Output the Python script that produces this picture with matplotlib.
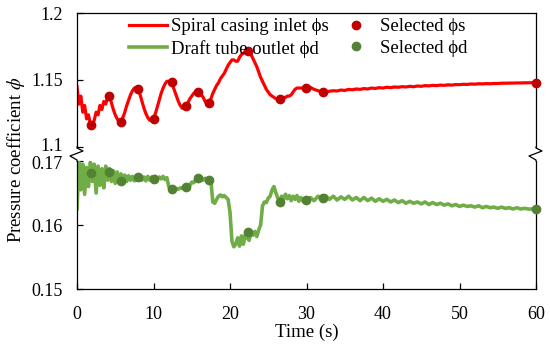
import numpy as np
import matplotlib
matplotlib.use("Agg")
import matplotlib.pyplot as plt
from matplotlib.lines import Line2D
from matplotlib.transforms import ScaledTranslation

# ---------------- data ----------------
time_a = np.arange(0, 30.001, 0.25)      # 0 .. 30 s
time_b = np.arange(30.5, 60.001, 0.5)    # 30.5 .. 60 s

spiral_a = [
    1.145, 1.132, 1.138, 1.126, 1.131, 1.121, 1.124, 1.117,
    1.116, 1.120, 1.126, 1.124, 1.131, 1.128, 1.134, 1.132,
    1.137, 1.138, 1.133, 1.128, 1.124, 1.121, 1.119, 1.119,
    1.122, 1.126, 1.131, 1.135, 1.139, 1.142, 1.144, 1.144,
    1.143, 1.139, 1.134, 1.129, 1.125, 1.122, 1.120, 1.120,
    1.121, 1.125, 1.130, 1.135, 1.140, 1.144, 1.147, 1.149,
    1.149, 1.148, 1.146, 1.142, 1.138, 1.134, 1.131, 1.129,
    1.129, 1.130, 1.133, 1.136, 1.138, 1.140, 1.141, 1.141,
    1.140, 1.139, 1.137, 1.134, 1.132, 1.133, 1.136, 1.140,
    1.143, 1.146, 1.148, 1.151, 1.153, 1.155, 1.158, 1.161,
    1.163, 1.165, 1.165, 1.164, 1.164, 1.167, 1.169, 1.170,
    1.171, 1.172, 1.171, 1.169, 1.166, 1.163, 1.160, 1.156,
    1.152, 1.149, 1.146, 1.143, 1.141, 1.139, 1.138, 1.137,
    1.136, 1.136, 1.136, 1.136, 1.137, 1.137, 1.138, 1.138,
    1.139, 1.141, 1.143, 1.144, 1.144, 1.144, 1.144, 1.144,
    1.144]
spiral_b = [
    1.1445, 1.1430, 1.1420, 1.1410, 1.1412, 1.1416, 1.1420, 1.1418, 1.1425, 1.1422,
    1.1430, 1.1427, 1.1433, 1.1430, 1.1436, 1.1433, 1.1440, 1.1437, 1.1443, 1.1440,
    1.1446, 1.1443, 1.1448, 1.1446, 1.1450, 1.1448, 1.1453, 1.1450, 1.1455, 1.1453,
    1.1458, 1.1456, 1.1460, 1.1458, 1.1462, 1.1460, 1.1464, 1.1462, 1.1466, 1.1465,
    1.1468, 1.1467, 1.1470, 1.1469, 1.1472, 1.1471, 1.1473, 1.1472, 1.1474, 1.1474,
    1.1476, 1.1476, 1.1477, 1.1477, 1.1478, 1.1478, 1.1479, 1.1479, 1.1480, 1.1480]

draft_a = [
    0.1625, 0.1698, 0.1655, 0.1695, 0.1648, 0.1690, 0.1660, 0.1698,
    0.1668, 0.1695, 0.1650, 0.1692, 0.1662, 0.1688, 0.1658, 0.1692,
    0.1670, 0.1688, 0.1668, 0.1685, 0.1665, 0.1683, 0.1668, 0.1680,
    0.1670, 0.1678, 0.1668, 0.1677, 0.1670, 0.1676, 0.1669, 0.1676,
    0.1671, 0.1677, 0.1670, 0.1675, 0.1669, 0.1676, 0.1670, 0.1675,
    0.1671, 0.1676, 0.1672, 0.1675, 0.1672, 0.1676, 0.1671, 0.1674,
    0.1660, 0.1655, 0.1657, 0.1654, 0.1657, 0.1656, 0.1658, 0.1657,
    0.1660, 0.1659, 0.1663, 0.1662, 0.1667, 0.1666, 0.1670, 0.1673,
    0.1671, 0.1674, 0.1670, 0.1673, 0.1671, 0.1672, 0.1670, 0.1636,
    0.1634, 0.1640, 0.1645, 0.1647, 0.1644, 0.1646, 0.1643, 0.1640,
    0.1620, 0.1575, 0.1566, 0.1570, 0.1580, 0.1567, 0.1583, 0.1570,
    0.1585, 0.1580, 0.1576, 0.1588, 0.1584, 0.1590, 0.1582, 0.1592,
    0.1600, 0.1630, 0.1636, 0.1635, 0.1642, 0.1645, 0.1655, 0.1660,
    0.1650, 0.1642, 0.1637, 0.1645, 0.1640, 0.1648, 0.1641, 0.1646,
    0.1638, 0.1645, 0.1640, 0.1646, 0.1637, 0.1643, 0.1638, 0.1640,
    0.1638]
draft_b = [
    0.1643, 0.1638, 0.1645, 0.1640, 0.1646, 0.1640, 0.1645, 0.1639, 0.1644, 0.1640,
    0.1645, 0.1639, 0.1643, 0.1638, 0.1643, 0.1638, 0.1642, 0.1637, 0.1641, 0.1637,
    0.1640, 0.1636, 0.1639, 0.1635, 0.1638, 0.1634, 0.1637, 0.1634, 0.1636, 0.1633,
    0.1636, 0.1632, 0.1635, 0.1632, 0.1634, 0.1631, 0.1633, 0.1630, 0.1632, 0.1629,
    0.1631, 0.1629, 0.1630, 0.1628, 0.1630, 0.1627, 0.1629, 0.1627, 0.1628, 0.1626,
    0.1628, 0.1626, 0.1627, 0.1625, 0.1627, 0.1625, 0.1626, 0.1625, 0.1625, 0.1625]

sel_time = [1.8, 4.2, 5.7, 8.0, 10.0, 12.4, 14.3, 15.8, 17.3, 22.4, 26.6, 29.9, 32.2, 60.0]
sel_spiral = [1.1164, 1.1378, 1.1189, 1.1433, 1.1209, 1.1485, 1.1304, 1.1408,
              1.1331, 1.1716, 1.1360, 1.1443, 1.1410, 1.1480]
sel_draft = [0.1682, 0.1683, 0.1669, 0.1675, 0.1672, 0.1657, 0.1659, 0.1673,
             0.1671, 0.1589, 0.1636, 0.1639, 0.1642, 0.1625]

x_ticks = [0, 10, 20, 30, 40, 50, 60]
top_ticks = [1.1, 1.15, 1.2]
top_labels = ["1.1", "1.15", "1.2"]
bot_ticks = [0.15, 0.16, 0.17]
bot_labels = ["0.15", "0.16", "0.17"]

time = np.concatenate([time_a, time_b])
spiral = np.array(spiral_a + spiral_b)
draft = np.array(draft_a + draft_b)
assert len(time) == len(spiral) == len(draft)

# ---------------- style ----------------
plt.rcParams["font.family"] = ["Liberation Serif", "DejaVu Serif"]
plt.rcParams["mathtext.fontset"] = "stix"

RED = "#FF0000"
RED_DOT = "#C00000"
GREEN = "#70AD47"
GREEN_DOT = "#548235"

W, H = 550, 344
fig = plt.figure(figsize=(W / 100, H / 100), dpi=100)

def fx(px):
    return px / W

def fy(py):
    return 1 - py / H

L, R = 77, 536
top_t, top_b = 13, 147
bot_t, bot_b = 161, 289

ax_top = fig.add_axes([fx(L), fy(top_b), fx(R) - fx(L), fy(top_t) - fy(top_b)])
ax_bot = fig.add_axes([fx(L), fy(bot_b), fx(R) - fx(L), fy(bot_t) - fy(bot_b)])

ax_top.plot(time, spiral, color=RED, lw=2.3, zorder=2)
ax_top.plot(sel_time, sel_spiral, "o", color=RED_DOT, ms=6, zorder=3, clip_on=False)
ax_bot.plot(time, draft, color=GREEN, lw=2.6, zorder=2)
ax_bot.plot(sel_time, sel_draft, "o", color=GREEN_DOT, ms=6, zorder=3, clip_on=False)

for ax in (ax_top, ax_bot):
    ax.set_xlim(0, 60)
    for s in ax.spines.values():
        s.set_linewidth(0.9)
        s.set_color("black")
    ax.tick_params(direction="in", length=4, width=0.9, labelsize=13,
                   right=False, top=False)
    ax.tick_params(axis="y", pad=10)

ax_top.set_ylim(1.1, 1.2)
ax_top.set_yticks(top_ticks)
ax_top.set_yticklabels(top_labels)
ax_top.spines["bottom"].set_visible(False)
ax_top.tick_params(axis="x", bottom=False, labelbottom=False)

ax_bot.set_ylim(0.15, 0.17)
ax_bot.set_yticks(bot_ticks)
ax_bot.set_yticklabels(bot_labels)
ax_bot.spines["top"].set_visible(False)
ax_bot.set_xticks(x_ticks)
ax_bot.tick_params(axis="x", pad=12)
ax_bot.set_xlabel("Time (s)", fontsize=13.5, labelpad=1)

# nudge the two labels that meet at the break apart
ax_top.get_yticklabels()[0].set_transform(
    ax_top.get_yticklabels()[0].get_transform()
    + ScaledTranslation(0, 2.5 / 100, fig.dpi_scale_trans))
ax_bot.get_yticklabels()[-1].set_transform(
    ax_bot.get_yticklabels()[-1].get_transform()
    + ScaledTranslation(0, -1.5 / 100, fig.dpi_scale_trans))

fig.text(fx(16), fy(160), "Pressure coefficient $\\phi$", rotation=90,
         ha="center", va="center", fontsize=13.5)

# break marks
for x0 in (L, R):
    xs = [x0, x0, x0 + 6, x0 - 7, x0, x0]
    ys = [top_b, top_b + 1, top_b + 4, top_b + 9, top_b + 13, bot_t]
    fig.add_artist(Line2D([fx(v) for v in xs], [fy(v) for v in ys],
                          color="black", lw=0.9, transform=fig.transFigure))

# legend
handles = [
    Line2D([], [], color=RED, lw=2.3),
    Line2D([], [], color=GREEN, lw=2.6),
    Line2D([], [], ls="none", marker="o", color=RED_DOT, ms=6),
    Line2D([], [], ls="none", marker="o", color=GREEN_DOT, ms=6),
]
labels = ["Spiral casing inlet \u03d5s", "Draft tube outlet \u03d5d",
          "Selected \u03d5s", "Selected \u03d5d"]
ax_top.legend(handles, labels, ncol=2, frameon=False, fontsize=13.5,
              loc="upper left", bbox_to_anchor=(fx(129), fy(18)),
              bbox_transform=fig.transFigure, handlelength=2.0,
              handletextpad=0.25, columnspacing=0.45, labelspacing=0.25,
              borderaxespad=0, borderpad=0)

fig.savefig("out.png", dpi=100)
